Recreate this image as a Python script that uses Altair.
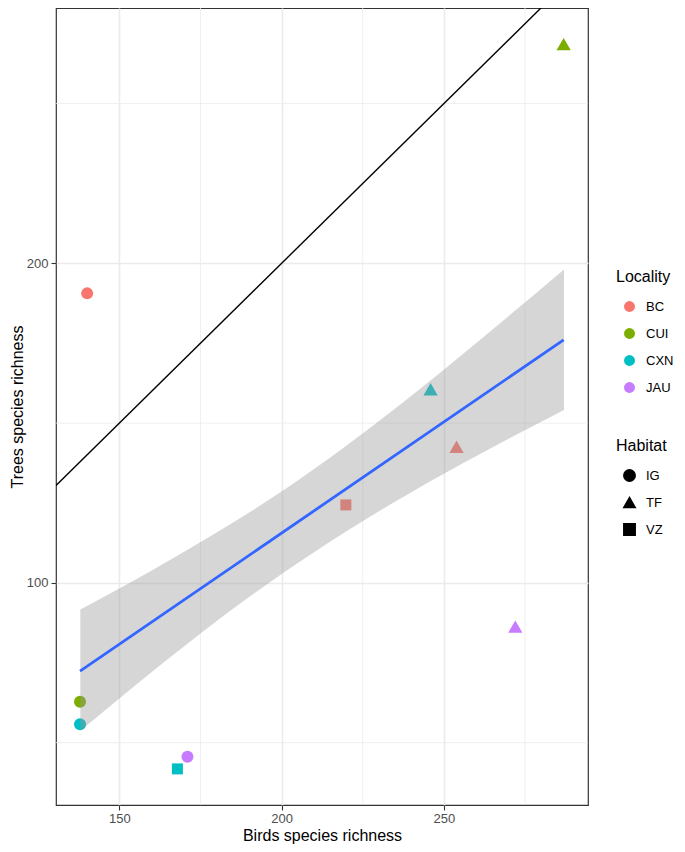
import altair as alt
import pandas as pd

# ---- data ----
LOCALITY = ["BC", "CUI", "CXN", "BC", "BC", "JAU", "CUI", "CXN", "JAU", "CXN"]
HABITAT = ["IG", "TF", "TF", "TF", "VZ", "TF", "IG", "IG", "IG", "VZ"]
BIRDS = [140.1, 286.9, 245.9, 253.9, 219.8, 272.0, 137.9, 137.9, 171.0, 167.9]
TREES = [190.6, 268.6, 160.6, 142.6, 124.4, 86.3, 62.8, 55.8, 45.6, 41.8]

LOC_DOMAIN = ["BC", "CUI", "CXN", "JAU"]
LOC_COLORS = ["#F8766D", "#7CAE00", "#00BFC4", "#C77CFF"]
HAB_DOMAIN = ["IG", "TF", "VZ"]
HAB_SHAPES = ["circle", "triangle-up", "square"]
HAB_SIZES = [144, 204, 121]

# confidence band of the fitted line
BAND_X = [138, 160, 180, 200, 220, 240, 260, 287]
BAND_LO = [53.7, 72.1, 88.1, 102.8, 116.2, 128.4, 139.7, 154.1]
BAND_HI = [91.7, 103.9, 115.8, 128.6, 143.0, 158.6, 175.1, 198.1]

# identity line y = x
ID_LINE = [130.5, 294.4]

X_TICKS = [150, 200, 250]
X_MINOR = [175, 225, 275]
Y_TICKS = [100, 200]
Y_MINOR = [50, 150, 250]

X_DOMAIN = [130.5, 294.4]
Y_DOMAIN = [30.5, 279.9]

FONT = "Liberation Sans"
X_TITLE = "Birds species richness"
Y_TITLE = "Trees species richness"

pts = pd.DataFrame({"Locality": LOCALITY, "Habitat": HABITAT,
                    "birds": BIRDS, "trees": TREES})
band = pd.DataFrame({"bx": BAND_X, "lo": BAND_LO, "hi": BAND_HI})
ident = pd.DataFrame({"x": ID_LINE, "y": ID_LINE})

xs = alt.Scale(domain=X_DOMAIN, nice=False, zero=False)
ys = alt.Scale(domain=Y_DOMAIN, nice=False, zero=False)
XAX = alt.Axis(values=X_TICKS, grid=True, labelPadding=2, titlePadding=2)
YAX = alt.Axis(values=Y_TICKS, grid=True, labelPadding=3, titlePadding=1)


def X(f):
    return alt.X(f, scale=xs, title=X_TITLE, axis=XAX)


def Y(f):
    return alt.Y(f, scale=ys, title=Y_TITLE, axis=YAX)


minor_x = alt.Chart(pd.DataFrame({"v": X_MINOR})).mark_rule(
    color="#EBEBEB", strokeWidth=0.8).encode(x=X("v:Q"))
minor_y = alt.Chart(pd.DataFrame({"v": Y_MINOR})).mark_rule(
    color="#EBEBEB", strokeWidth=0.8).encode(y=Y("v:Q"))

color_enc = alt.Color(
    "Locality:N", scale=alt.Scale(domain=LOC_DOMAIN, range=LOC_COLORS),
    legend=alt.Legend(title="Locality", orient="none", legendX=560, legendY=261,
                      symbolType="circle", symbolSize=120))
shape_enc = alt.Shape(
    "Habitat:N", scale=alt.Scale(domain=HAB_DOMAIN, range=HAB_SHAPES),
    legend=alt.Legend(title="Habitat", orient="none", legendX=560, legendY=430,
                      symbolFillColor="black", symbolStrokeColor="black",
                      symbolSize=130, rowPadding=9))

point_layers = []
for hab, sz in zip(HAB_DOMAIN, HAB_SIZES):
    point_layers.append(
        alt.Chart(pts).transform_filter(alt.datum.Habitat == hab)
        .mark_point(filled=True, opacity=1, strokeWidth=0, size=sz)
        .encode(x=X("birds:Q"), y=Y("trees:Q"), color=color_enc, shape=shape_enc)
    )

band_layer = alt.Chart(band).mark_area(color="#999999", opacity=0.4,
                                       interpolate="monotone").encode(
    x=X("bx:Q"), y=Y("lo:Q"), y2="hi:Q")

reg = alt.Chart(pts).transform_regression("birds", "trees").mark_line(
    color="#3366FF", strokeWidth=2.8).encode(x=X("birds:Q"), y=Y("trees:Q"))

ident_layer = alt.Chart(ident).mark_line(color="black", strokeWidth=1.4, clip=True).encode(
    x=X("x:Q"), y=Y("y:Q"))

chart = alt.layer(minor_x, minor_y, *point_layers, band_layer, reg, ident_layer).properties(
    width=532, height=797,
    autosize=alt.AutoSizeParams(type="none"),
    padding={"left": 48, "top": 0, "right": 88, "bottom": 39},
).configure_view(
    stroke="#333333", strokeWidth=1.2
).configure_axis(
    domain=False, gridColor="#EBEBEB", gridWidth=1.6,
    tickColor="#333333", tickSize=5, tickWidth=1.1,
    labelColor="#4D4D4D", labelFontSize=13, labelFont=FONT,
    titleFont=FONT, titleFontSize=16, titleFontWeight="normal", titleColor="black",
).configure_legend(
    titleFont=FONT, titleFontSize=16, titleFontWeight="normal", titleColor="black",
    labelFont=FONT, labelFontSize=13, labelColor="black",
    rowPadding=13, titlePadding=15, symbolOffset=7, labelOffset=10, padding=0,
)

chart.save("out.html", embed_options={"renderer": "svg", "actions": False})
